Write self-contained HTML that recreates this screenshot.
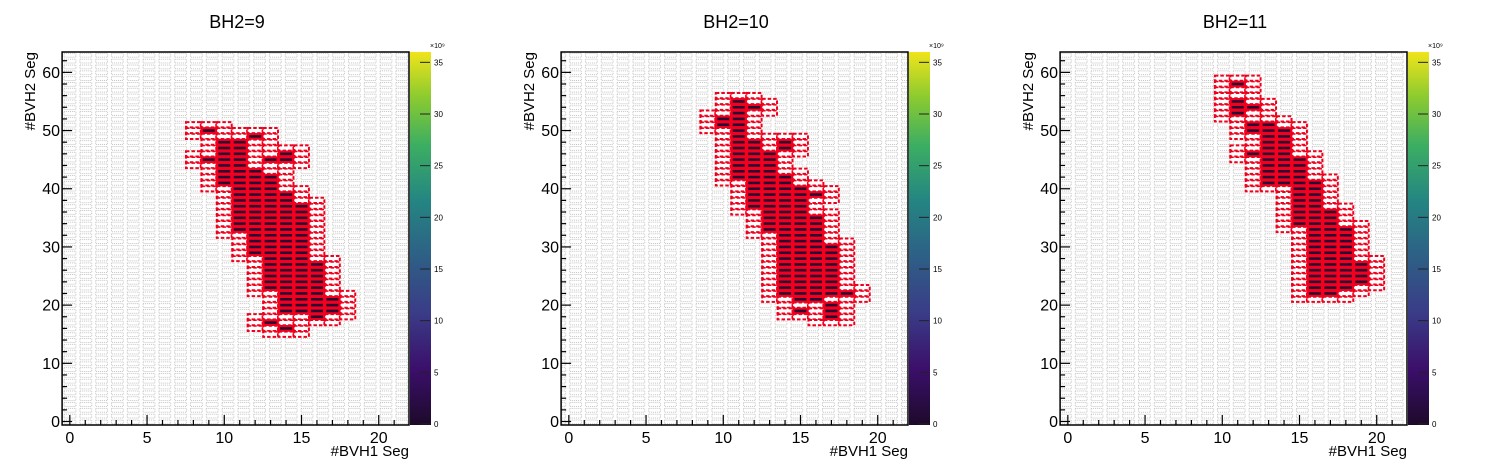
<!DOCTYPE html>
<html><head><meta charset="utf-8">
<style>
html,body{margin:0;padding:0;background:#fff;}
svg{display:block;font-family:"Liberation Sans",Arial,sans-serif;}
</style></head>
<body>
<svg id="chart" width="1498" height="475" viewBox="0 0 1498 475" xmlns="http://www.w3.org/2000/svg">
<defs>
<pattern id="emptyCells" patternUnits="userSpaceOnUse" x="62.1" y="0" width="15.8" height="5.82">
<rect x="2" y="1" width="11.8" height="3.8" fill="none" stroke="#b8b8b8" stroke-width="0.8" stroke-dasharray="1,1"/>
</pattern>
<linearGradient id="viridis" x1="0" y1="1" x2="0" y2="0">
<stop offset="0" stop-color="#1d0a2a"/><stop offset="0.15" stop-color="#3b0f6b"/>
<stop offset="0.3" stop-color="#3a3c87"/><stop offset="0.45" stop-color="#2e5f86"/>
<stop offset="0.6" stop-color="#248582"/><stop offset="0.75" stop-color="#3cae62"/>
<stop offset="0.88" stop-color="#8ccb2f"/><stop offset="1" stop-color="#f0e41a"/>
</linearGradient>
</defs>
</svg>
<script>
// Data: per panel, filled bins as [xBin, yMin, yMax]
const panelTitles = ["BH2=9", "BH2=10", "BH2=11"];
const binsBH2_9 = [[9,45,45],[9,50,50],[10,41,48],[11,33,48],[12,29,43],[12,49,49],[13,23,42],[13,45,45],[13,17,17],[14,19,39],[14,45,46],[14,16,16],[15,19,37],[16,18,27],[17,19,21]];
const binsBH2_10 = [[10,51,52],[11,42,55],[12,37,48],[12,54,54],[13,33,46],[14,22,42],[14,47,48],[15,21,40],[15,19,19],[16,21,35],[16,39,39],[17,22,30],[17,18,20],[18,22,22]];
const binsBH2_11 = [[11,58,58],[11,53,55],[12,54,54],[12,50,51],[12,46,46],[13,41,51],[14,41,50],[15,34,45],[16,22,41],[17,22,36],[18,23,33],[19,24,27]];
const panelBins = [binsBH2_9, binsBH2_10, binsBH2_11];
const xTicks = [0,5,10,15,20];
const yTicks = [0,10,20,30,40,50,60];
const zTicks = [0,5,10,15,20,25,30,35];

const NS = "http://www.w3.org/2000/svg";
const svg = document.getElementById("chart");
function mk(tag, attrs, parent){
  const e = document.createElementNS(NS, tag);
  for (const k in attrs) e.setAttribute(k, attrs[k]);
  (parent||svg).appendChild(e);
  return e;
}
const FX0 = 62.1, FX1 = 409, FY0 = 52, FY1 = 425;
const XMIN = -0.5, XMAX = 21.96, YMIN = -0.6, YMAX = 63.5;
const PANEL_DX = 499;

panelTitles.forEach((title, p) => {
  const dx = p * PANEL_DX;
  const sx = v => dx + FX0 + (v - XMIN) / (XMAX - XMIN) * (FX1 - FX0);
  const sy = v => FY1 - (v - YMIN) / (YMAX - YMIN) * (FY1 - FY0);
  const g = mk("g", {});
  
  

  const t = mk("text", {x: dx + 237, y: 28, "font-size": 18, "text-anchor": "middle", fill: "#000"}, g);
  
  
  t.textContent = title;

  const bg = mk("rect", {x: dx+FX0, y: FY0, width: FX1-FX0, height: FY1-FY0, fill: "url(#emptyCells)"}, g);
  
  

  const filled = new Set();
  panelBins[p].forEach(([x, a, b]) => { for (let y = a; y <= b; y++) filled.add(x + "," + y); });
  const ring = new Set();
  filled.forEach(k => {
    const [x, y] = k.split(",").map(Number);
    for (let ix = -1; ix <= 1; ix++) for (let iy = -1; iy <= 1; iy++) {
      const kk = (x+ix) + "," + (y+iy);
      if (!filled.has(kk)) ring.add(kk);
    }
  });
  const cw = sx(1) - sx(0), ch = sy(0) - sy(1);
  ring.forEach(k => {
    const [x, y] = k.split(",").map(Number);
    const r = mk("rect", {x: sx(x-0.5)+0.3, y: sy(y+0.5)+0.3, width: cw-0.6, height: ch-0.6, fill: "#fff", stroke: "#f0001c", "stroke-width": 2, "stroke-dasharray": "3.5,2"}, g);
    
    
  });
  filled.forEach(k => {
    const [x, y] = k.split(",").map(Number);
    const r = mk("rect", {x: sx(x-0.5)-0.5, y: sy(y+0.5)-0.5, width: cw+1, height: ch+1, fill: "#f2001e"}, g);
    
    
  });
  filled.forEach(k => {
    const [x, y] = k.split(",").map(Number);
    const r = mk("rect", {x: sx(x)-6, y: sy(y)-1.3, width: 12, height: 2.6, fill: "#2a0b33"}, g);
    
    
  });

  const fr = mk("rect", {x: dx+FX0, y: FY0, width: FX1-FX0, height: FY1-FY0, fill: "none", stroke: "#000", "stroke-width": 1.5}, g);
  
  

  for (let v = 0; v <= 21; v++) {
    const L = v % 5 === 0 ? 10 : 5;
    const tk = mk("line", {x1: sx(v), x2: sx(v), y1: FY1, y2: FY1-L, stroke: "#000", "stroke-width": 1.2}, g);
    
    
  }
  xTicks.forEach(v => {
    const l = mk("text", {x: sx(v), y: 443, "font-size": 16, "text-anchor": "middle"}, g);
    
    
    l.textContent = v;
  });
  for (let v = 0; v <= 62; v += 2) {
    const L = v % 10 === 0 ? 10 : 5;
    const tk = mk("line", {x1: dx+FX0, x2: dx+FX0+L, y1: sy(v), y2: sy(v), stroke: "#000", "stroke-width": 1.2}, g);
    
    
  }
  yTicks.forEach(v => {
    const l = mk("text", {x: dx+60, y: sy(v)+5.5, "font-size": 16, "text-anchor": "end"}, g);
    
    
    l.textContent = v;
  });
  const xt = mk("text", {x: dx+409, y: 456, "font-size": 15, "text-anchor": "end"}, g);
  
  
  xt.textContent = "#BVH1 Seg";
  const yt = mk("text", {x: 0, y: 0, "font-size": 15, "text-anchor": "end", transform: `translate(${dx+35},52) rotate(-90)`}, g);
  
  
  yt.textContent = "#BVH2 Seg";

  const cb = mk("rect", {x: dx+410, y: FY0, width: 21, height: FY1-FY0, fill: "url(#viridis)"}, g);
  
  
  const sz = v => 424 - v / 36 * (424 - 52);
  zTicks.forEach(v => {
    const tk = mk("line", {x1: dx+420, x2: dx+430, y1: sz(v), y2: sz(v), stroke: "#222", "stroke-width": 1}, g);
    
    
    const l = mk("text", {x: dx+434, y: sz(v)+3, "font-size": 8}, g);
    
    
    l.textContent = v;
  });
  const ex = mk("text", {x: dx+430, y: 48, "font-size": 7}, g);
  
  
  ex.textContent = "×10⁹";
});
</script>
</body></html>
